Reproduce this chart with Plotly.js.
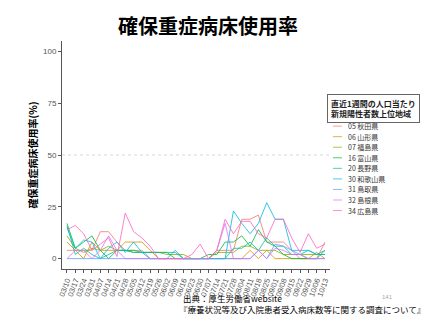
<!DOCTYPE html>
<html><head><meta charset="utf-8">
<script src="https://cdn.plot.ly/plotly-3.0.1.min.js"></script>
<style>html,body{margin:0;padding:0;background:#fff}#chart{width:427px;height:320px}</style>
</head><body><div id="chart"></div>
<script>
const dates = ['03/10','03/17','03/24','03/31','04/07','04/14','04/21','04/28','05/05','05/12','05/19','05/26','06/02','06/09','06/16','06/23','06/30','07/07','07/14','07/21','07/28','08/04','08/11','08/18','08/25','09/01','09/08','09/15','09/22','09/29','10/06','10/13'];
const prefectures = ['05 秋田県','06 山形県','07 福島県','16 富山県','20 長野県','30 和歌山県','31 鳥取県','32 島根県','34 広島県'];
const colors = ['#F8766D','#D39200','#93AA00','#00BA38','#00C19F','#00B9E3','#619CFF','#DB72FB','#FF61C3'];
const akita    = [4,4,4,4,13,13,8,4,4,4,0,0,0,0,0,0,0,0,4,4,4,19,19,21,8,8,8,4,0,0,0,8];
const yamagata = [8,4,0,8,4,4,4,8,8,8,4,0,0,0,0,0,0,0,0,0,0,0,4,0,4,0,0,0,0,0,3,0];
const fukushima= [11,5,3,5,4,6,4,4,3,3,3,3,2,2,2,0,0,0,3,3,3,6,6,4,4,4,2,2,2,2,2,2];
const toyama   = [17,5,8,11,4,0,4,4,4,3,3,3,3,0,0,0,0,2,2,8,8,11,6,14,8,6,2,0,0,0,0,4];
const nagano   = [16,2,5,2,0,2,4,4,3,3,3,3,3,3,0,0,0,0,0,0,5,5,8,4,10,6,6,2,2,4,2,2];
const wakayama = [15,5,9,8,0,5,8,3,8,3,0,0,0,4,0,0,0,0,0,0,23,17,12,17,27,19,19,4,4,4,2,4];
const tottori  = [0,0,0,0,0,0,0,0,0,0,0,0,0,0,0,0,0,0,0,0,0,0,0,4,0,7,6,4,2,0,0,0];
const shimane  = [0,4,4,0,4,11,4,0,0,0,0,0,0,0,0,0,0,0,4,17,0,0,0,4,0,5,4,2,2,0,0,0];
const hiroshima= [14,16,12,4,7,10,1,22,13,10,6,0,0,0,0,2,7,0,4,19,12,18,18,12,10,19,19,10,3,12,5,7];
const seriesValues = [akita,yamagata,fukushima,toyama,nagano,wakayama,tottori,shimane,hiroshima];
const yTicks = [0,25,50,75,100];
const titleText = '確保重症病床使用率';
const yTitle = '確保重症病床使用率(%)';
const legendTitle = '直近1週間の人口当たり<br>新規陽性者数上位地域';
const source1 = '出典：厚生労働省website';
const source2 = '『療養状況等及び入院患者受入病床数等に関する調査について』';
const pageNo = '141';

const JP = '"Noto Sans CJK JP", "Noto Sans", sans-serif';
const traces = seriesValues.map((v,k)=>({
  type:'scatter', mode:'lines', x:dates.map((d,i)=>i), y:v, name:prefectures[k],
  line:{color:colors[k], width:1}, opacity:0.8, showlegend:false, hoverinfo:'skip'
}));

const W=427,H=320;
const annotations = [
  {text:'<b>'+titleText+'</b>', xref:'paper', yref:'paper', x:(208-62)/268, y:1+(40.5-25)/229, xanchor:'center', yanchor:'middle', showarrow:false, font:{family:JP,size:20,color:'#000'}},
  {text:'<b>'+legendTitle+'</b>', xref:'paper', yref:'paper', x:(373-62)/268, y:(269.5-108.5)/229, xanchor:'center', yanchor:'middle', showarrow:false, align:'left', font:{family:JP,size:8,color:'#222'}, bordercolor:'#666', borderwidth:1, borderpad:3, bgcolor:'#fff'},
  {text:source1, xref:'paper', yref:'paper', x:(181-62)/268, y:-(299-269.5)/229, xanchor:'left', yanchor:'middle', showarrow:false, font:{family:JP,size:8.5,color:'#000'}},
  {text:source2, xref:'paper', yref:'paper', x:(177-62)/268, y:-(309.5-269.5)/229, xanchor:'left', yanchor:'middle', showarrow:false, font:{family:JP,size:8.5,color:'#000'}},
  {text:pageNo, xref:'paper', yref:'paper', x:(387-62)/268, y:-(298-269.5)/229, xanchor:'center', yanchor:'middle', showarrow:false, font:{family:'Liberation Sans',size:6,color:'#aaa'}}
];
const shapes = [
  {type:'line', xref:'paper', yref:'y', x0:0, x1:1, y0:50, y1:50, line:{color:'#d9d9d9', width:1, dash:'dot'}}
];
prefectures.forEach((p,k)=>{
  const yc = 126 + k*10.6;
  const yp = (269.5-yc)/229;
  shapes.push({type:'line', xref:'paper', yref:'paper', x0:(333-62)/268, x1:(342-62)/268, y0:yp, y1:yp, line:{color:colors[k], width:1}, opacity:0.7});
  annotations.push({text:p, xref:'paper', yref:'paper', x:(346-62)/268, y:yp, xanchor:'left', yanchor:'middle', showarrow:false, font:{family:JP,size:7,color:'#333'}});
});

const layout = {
  width:W, height:H, margin:{l:62,r:97,t:40.5,b:50.5},
  paper_bgcolor:'#fff', plot_bgcolor:'#fff', showlegend:false,
  font:{family:JP},
  xaxis:{range:[-0.6,31.6], tickvals:dates.map((d,i)=>i), ticktext:dates, tickangle:-70,
    showgrid:false, zeroline:false, showline:true, linecolor:'#555', linewidth:1,
    ticks:'outside', ticklen:3, tickcolor:'#555', tickfont:{family:'Liberation Sans',size:7.5,color:'#555'}},
  yaxis:{range:[-5,105], tickvals:yTicks, showgrid:false, zeroline:false, showline:true, linecolor:'#555', linewidth:1,
    ticks:'outside', ticklen:3, tickcolor:'#555', tickfont:{family:'Liberation Sans',size:8,color:'#555'},
    title:{text:'<b>'+yTitle+'</b>', font:{family:JP,size:10,color:'#000'}, standoff:3}, automargin:false},
  annotations, shapes
};
Plotly.newPlot('chart', traces, layout, {displayModeBar:false, staticPlot:true});
</script></body></html>
